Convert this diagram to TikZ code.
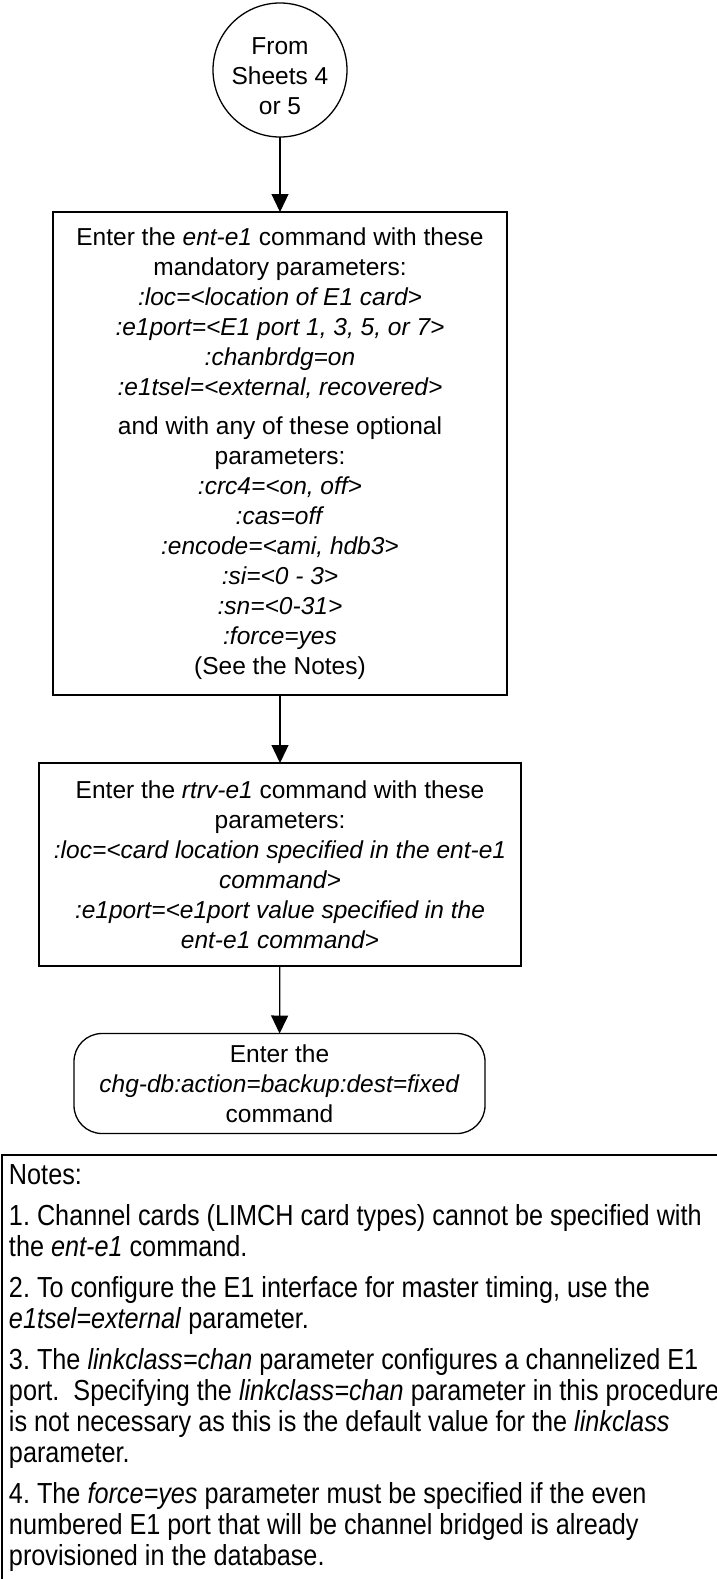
\documentclass[tikz,border=0pt]{standalone}
\usepackage{fontspec}
\setmainfont{Liberation Sans}
\newfontfamily\notesfont[FakeStretch=0.87]{Liberation Sans}
\usetikzlibrary{arrows.meta}
\frenchspacing
\begin{document}
\begin{tikzpicture}[x=1pt,y=-1pt,
  every node/.style={inner sep=0pt, outer sep=0pt},
  mainfont/.style={font=\fontsize{24.5}{29.9}\selectfont},
  procbox/.style={draw, line width=1.3pt, rectangle, align=center, mainfont},
  termbox/.style={draw, line width=1.3pt, rounded corners=28pt, align=center, mainfont},
  conn/.style={draw, line width=1.3pt, circle},
  arr/.style={line width=1.3pt, -{Triangle[length=18pt,width=17pt]}},
  notebox/.style={draw, line width=1.3pt}
]
\useasboundingbox (0,0) rectangle (717,1579);
\clip (0,0) rectangle (717,1579);

\node[conn, minimum size=134pt] (c) at (280,70) {};
\node[align=center, mainfont] (ctext) at (280,76) {From\\Sheets 4\\or 5};

\node[procbox, minimum width=454pt, minimum height=483pt] (b1) at (280,453.5) {%
Enter the \textit{ent-e1} command with these\\
mandatory parameters:\\
\textit{:loc=<location of E1 card>}\\
\textit{:e1port=<E1 port 1, 3, 5, or 7>}\\
\textit{:chanbrdg=on}\\
\textit{:e1tsel=<external, recovered>}\\[10pt]
and with any of these optional\\
parameters:\\
\textit{:crc4=<on, off>}\\
\textit{:cas=off}\\
\textit{:encode=<ami, hdb3>}\\
\textit{:si=<0 - 3>}\\
\textit{:sn=<0-31>}\\
\textit{:force=yes}\\
(See the Notes)};

\node[procbox, minimum width=482pt, minimum height=203pt] (b2) at (280,864.5) {%
Enter the \textit{rtrv-e1} command with these\\
parameters:\\
\textit{:loc=<card location specified in the ent-e1}\\
\textit{command>}\\
\textit{:e1port=<e1port value specified in the}\\
\textit{ent-e1 command>}};

\node[termbox, minimum width=411pt, minimum height=100pt] (t) at (279.5,1083.5) {%
Enter the\\
\textit{chg-db:action=backup:dest=fixed}\\
command};

\draw[arr] (c) -- (b1);
\draw[arr] (b1) -- (b2);
\draw[arr] (b2) -- (t);

\draw[notebox] (2,1155) rectangle (800,1660);
\node[anchor=north west, align=left, font=\notesfont\fontsize{29}{31}\selectfont] (notes) at (9,1165) {%
Notes:\\[10pt]
1. Channel cards (LIMCH card types) cannot be specified with\\
the \textit{ent-e1} command.\\[10pt]
2. To configure the E1 interface for master timing, use the\\
\textit{e1tsel=external} parameter.\\[10pt]
3. The \textit{linkclass=chan} parameter configures a channelized E1\\
port.\ \ Specifying the \textit{linkclass=chan} parameter in this procedure\\
is not necessary as this is the default value for the \textit{linkclass}\\
parameter.\\[10pt]
4. The \textit{force=yes} parameter must be specified if the even\\
numbered E1 port that will be channel bridged is already\\
provisioned in the database.};
\end{tikzpicture}
\end{document}
